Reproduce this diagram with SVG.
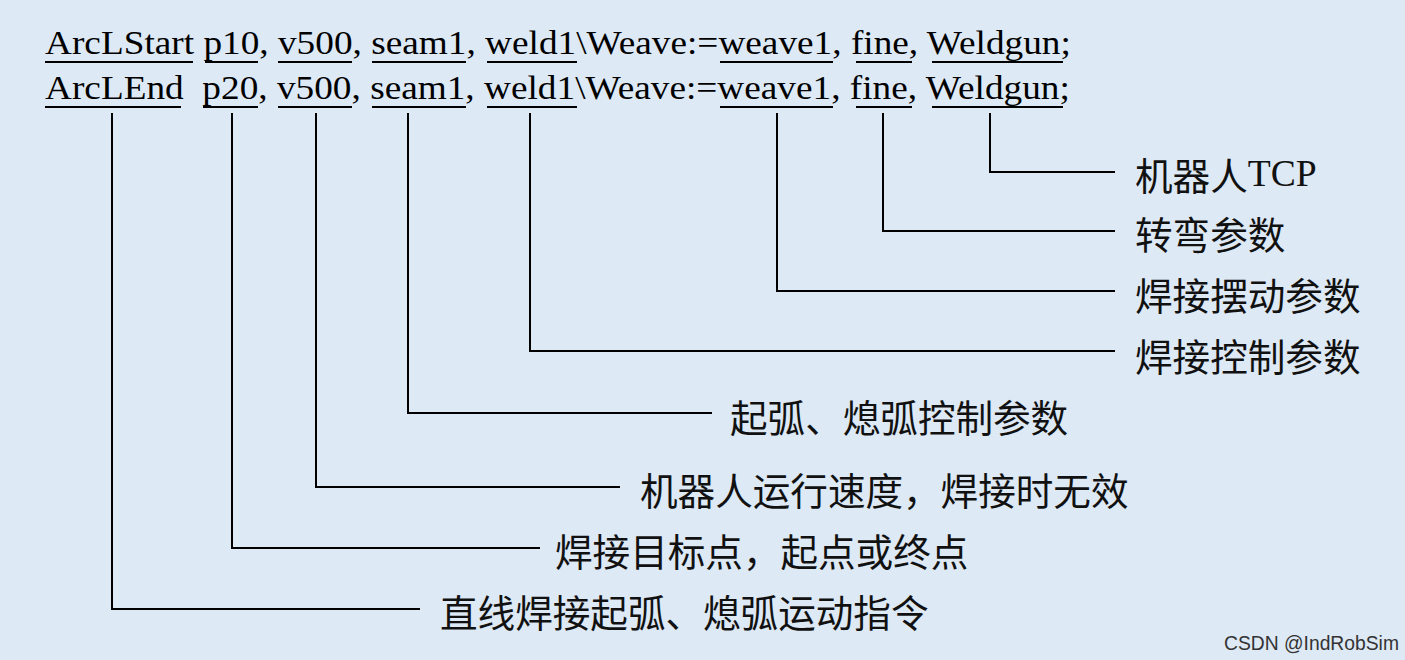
<svg xmlns="http://www.w3.org/2000/svg" width="1405" height="660" viewBox="0 0 1405 660">
<style>
.code{font-family:"Liberation Serif","Times New Roman",serif;font-size:33px;fill:#000}
.ul{stroke:#000;stroke-width:2;fill:none}
.conn{stroke:#000;stroke-width:2;fill:none}
.lbl{font-family:"Noto Sans CJK SC","Noto Sans",sans-serif;font-size:37.6px;fill:#111;dominant-baseline:central}
.lat{font-family:"Liberation Serif","Times New Roman",serif}
.wm{font-family:"Liberation Sans",Arial,sans-serif;font-size:19.3px;fill:#333}
</style>
<rect x="0" y="0" width="1405" height="660" fill="#DDE9F5"/>
<g id="code">
<text class="code" transform="translate(45,54) scale(1.13,1)" xml:space="preserve">ArcLStart p10, v500, seam1, weld1\Weave:=weave1, fine, Weldgun;</text>
<text class="code" transform="translate(45,99) scale(1.13,1)" xml:space="preserve">ArcLEnd  p20, v500, seam1, weld1\Weave:=weave1, fine, Weldgun;</text>
<g class="ul">
<path d="M45 62H193M205 62H258M278 62H352M372 62H466M487 62H577M720 62H833M856 62H912M932 62H1063"/>
<path d="M45 107H181M203 107H258M278 107H352M372 107H466M487 107H577M720 107H833M856 107H912M932 107H1063"/>
</g>
</g>
<g id="connectors" class="conn">
<path d="M990 113V172H1115"/>
<path d="M883 113V231H1115"/>
<path d="M777 113V291H1115"/>
<path d="M530 113V351H1115"/>
<path d="M408 113V413H712"/>
<path d="M316 113V487H620"/>
<path d="M232 113V548H540"/>
<path d="M112 113V609H420"/>
</g>
<g id="label-tcp"><text class="lbl" x="1135" y="173">机器人<tspan class="lat">TCP</tspan></text></g>
<g id="label-zone"><text class="lbl" x="1135" y="232">转弯参数</text></g>
<g id="label-weave"><text class="lbl" x="1135" y="293">焊接摆动参数</text></g>
<g id="label-weld"><text class="lbl" x="1135" y="354">焊接控制参数</text></g>
<g id="label-seam"><text class="lbl" x="730" y="415">起弧、熄弧控制参数</text></g>
<g id="label-speed"><text class="lbl" x="640" y="488">机器人运行速度，焊接时无效</text></g>
<g id="label-target"><text class="lbl" x="555" y="549">焊接目标点，起点或终点</text></g>
<g id="label-instr"><text class="lbl" x="440" y="610">直线焊接起弧、熄弧运动指令</text></g>
<text class="wm" x="1224" y="650">CSDN @IndRobSim</text>
</svg>
